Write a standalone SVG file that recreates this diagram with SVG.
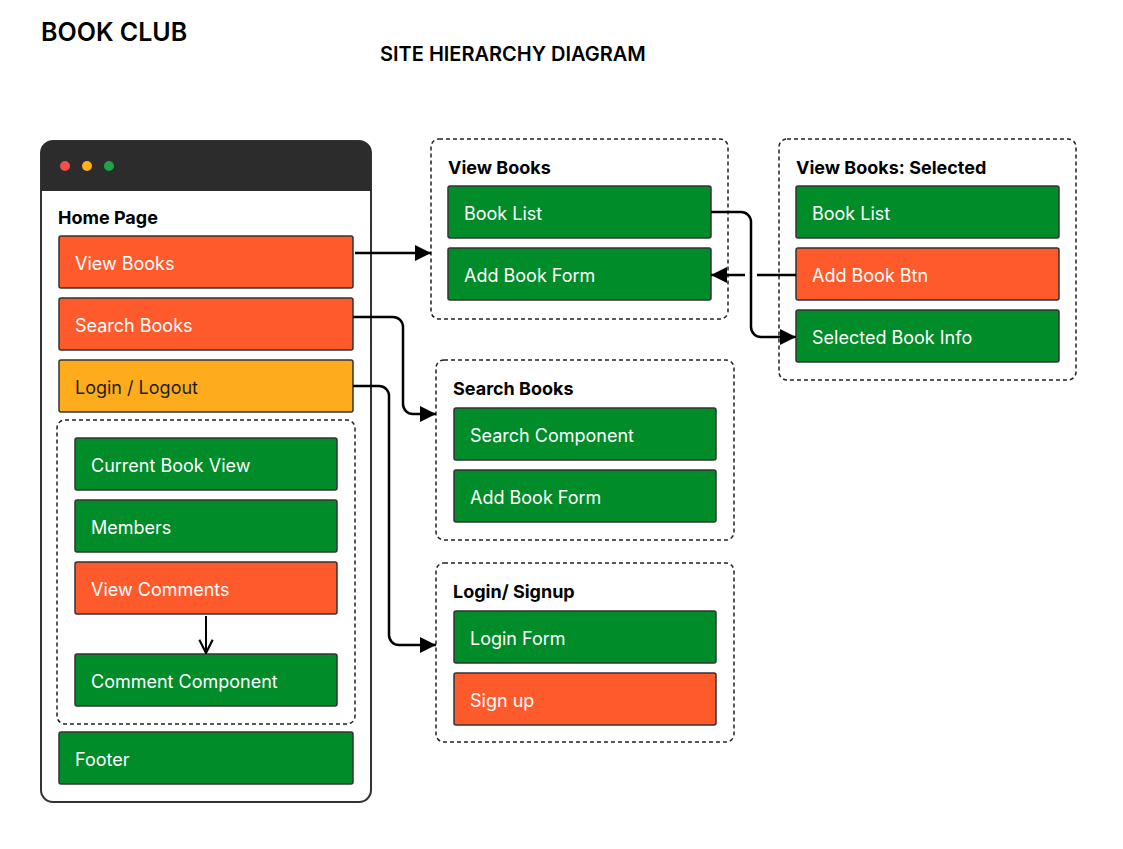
<svg xmlns="http://www.w3.org/2000/svg" width="1123" height="849" viewBox="0 0 1123 849">
<defs>
<style>
text{font-family:Inter,"Noto Sans","Liberation Sans",sans-serif}
.title{font-size:25px;font-weight:600;fill:#000}
.sub{font-size:20px;font-weight:600;fill:#000}
.glabel{font-size:18px;font-weight:700;fill:#000}
.box{stroke:#333;stroke-width:1.5}
.g{fill:#008c28}
.o{fill:#ff5a2b}
.y{fill:#ffac1c}
.t{font-size:18px;fill:#fff}
.td{font-size:18px;fill:#1e1e1e}
.dash{fill:#fff;stroke:#222;stroke-width:1.5;stroke-dasharray:4 3}
.con{fill:none;stroke:#000;stroke-width:2.5}
</style>
<marker id="ah" viewBox="0 0 10 10" refX="10" refY="5" markerWidth="6.4" markerHeight="6.4" markerUnits="strokeWidth" orient="auto">
<path d="M0,0 L10,5 L0,10 z" fill="#000"/>
</marker>
<marker id="open" viewBox="0 0 12 12" refX="11" refY="6" markerWidth="8" markerHeight="8" markerUnits="strokeWidth" orient="auto">
<path d="M1,1 L11,6 L1,11" fill="none" stroke="#000" stroke-width="1.6"/>
</marker>
</defs>
<rect width="1123" height="849" fill="#fff"/>
<text class="title" x="41" y="41">BOOK CLUB</text>
<text class="sub" x="380" y="61">SITE HIERARCHY DIAGRAM</text>

<g id="home">
<rect x="41" y="141" width="330" height="661" rx="12" fill="#fff" stroke="#333" stroke-width="2"/>
<path d="M41,191 V153 A12,12 0 0 1 53,141 H359 A12,12 0 0 1 371,153 V191 Z" fill="#2c2c2c"/>
<circle cx="65" cy="166" r="5" fill="#f24e4e"/>
<circle cx="87" cy="166" r="5" fill="#ffb020"/>
<circle cx="109" cy="166" r="5" fill="#1fa445"/>
<text class="glabel" x="58" y="224">Home Page</text>
</g>
<g id="home-viewbooks"><rect class="box o" x="59" y="236" width="294" height="52" rx="2"/><text class="t" x="75" y="270">View Books</text></g>
<g id="home-searchbooks"><rect class="box o" x="59" y="298" width="294" height="52" rx="2"/><text class="t" x="75" y="332">Search Books</text></g>
<g id="home-login"><rect class="box y" x="59" y="360" width="294" height="52" rx="2"/><text class="td" x="75" y="394">Login / Logout</text></g>
<g id="home-inner"><rect class="dash" x="57" y="420" width="298" height="304" rx="8"/></g>
<g id="home-current"><rect class="box g" x="75" y="438" width="262" height="52" rx="2"/><text class="t" x="91" y="472">Current Book View</text></g>
<g id="home-members"><rect class="box g" x="75" y="500" width="262" height="52" rx="2"/><text class="t" x="91" y="534">Members</text></g>
<g id="home-viewcomments"><rect class="box o" x="75" y="562" width="262" height="52" rx="2"/><text class="t" x="91" y="596">View Comments</text></g>
<g id="home-commentcomp"><rect class="box g" x="75" y="654" width="262" height="52" rx="2"/><text class="t" x="91" y="688">Comment Component</text></g>
<g id="home-footer"><rect class="box g" x="59" y="732" width="294" height="52" rx="2"/><text class="t" x="75" y="766">Footer</text></g>

<g id="viewbooks">
<rect class="dash" x="431" y="139" width="297" height="180" rx="8"/>
<text class="glabel" x="448" y="174">View Books</text>
</g>
<g id="vb-booklist"><rect class="box g" x="448" y="186" width="263" height="52" rx="2"/><text class="t" x="464" y="220">Book List</text></g>
<g id="vb-addform"><rect class="box g" x="448" y="248" width="263" height="52" rx="2"/><text class="t" x="464" y="282">Add Book Form</text></g>

<g id="selected">
<rect class="dash" x="779" y="139" width="297" height="241" rx="8"/>
<text class="glabel" x="796" y="174">View Books: Selected</text>
</g>
<g id="sel-booklist"><rect class="box g" x="796" y="186" width="263" height="52" rx="2"/><text class="t" x="812" y="220">Book List</text></g>
<g id="sel-addbtn"><rect class="box o" x="796" y="248" width="263" height="52" rx="2"/><text class="t" x="812" y="282">Add Book Btn</text></g>
<g id="sel-info"><rect class="box g" x="796" y="310" width="263" height="52" rx="2"/><text class="t" x="812" y="344">Selected Book Info</text></g>

<g id="searchbooks">
<rect class="dash" x="436" y="360" width="298" height="180" rx="8"/>
<text class="glabel" x="453" y="395">Search Books</text>
</g>
<g id="sb-search"><rect class="box g" x="454" y="408" width="262" height="52" rx="2"/><text class="t" x="470" y="442">Search Component</text></g>
<g id="sb-addform"><rect class="box g" x="454" y="470" width="262" height="52" rx="2"/><text class="t" x="470" y="504">Add Book Form</text></g>

<g id="login">
<rect class="dash" x="436" y="563" width="298" height="179" rx="8"/>
<text class="glabel" x="453" y="598">Login/ Signup</text>
</g>
<g id="lg-form"><rect class="box g" x="454" y="611" width="262" height="52" rx="2"/><text class="t" x="470" y="645">Login Form</text></g>
<g id="lg-signup"><rect class="box o" x="454" y="673" width="262" height="52" rx="2"/><text class="t" x="470" y="707">Sign up</text></g>

<g id="connectors">
<path class="con" d="M355,253 H431" marker-end="url(#ah)"/>
<path class="con" d="M353,317 H393 A10,10 0 0 1 403,327 V404 A10,10 0 0 0 413,414 H436" marker-end="url(#ah)"/>
<path class="con" d="M353,386 H379 A10,10 0 0 1 389,396 V635 A10,10 0 0 0 399,645 H436" marker-end="url(#ah)"/>
<path class="con" d="M711,212 H741 A10,10 0 0 1 751,222 V327 A10,10 0 0 0 761,337 H796" marker-end="url(#ah)"/>
<path class="con" d="M796,275 H757"/>
<path class="con" d="M745,275 H711" marker-end="url(#ah)"/>
<path fill="none" stroke="#000" stroke-width="2" d="M206,616 V653" marker-end="url(#open)"/>
</g>
</svg>
